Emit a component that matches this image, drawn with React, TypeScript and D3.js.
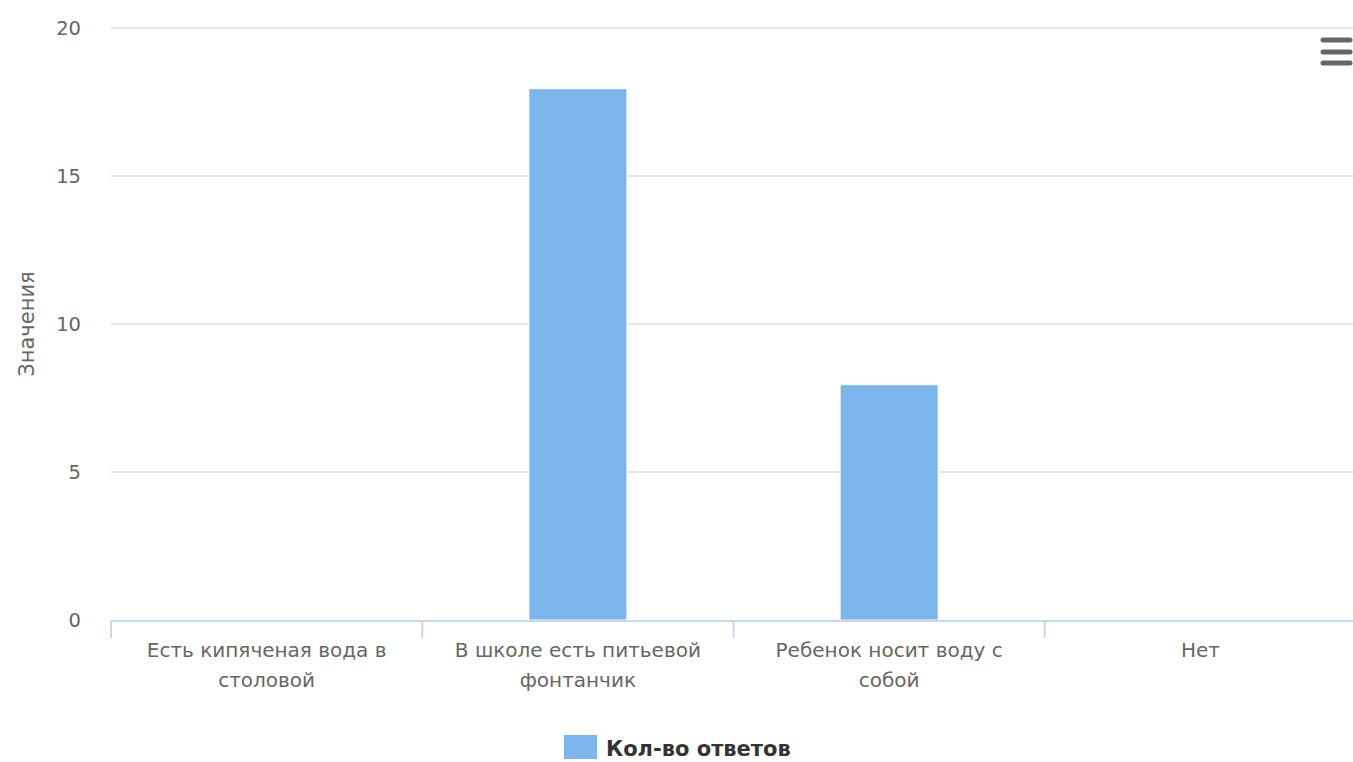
import React from "react";
import * as d3 from "d3";

const categories = [
  ["Есть кипяченая вода в", "столовой"],
  ["В школе есть питьевой", "фонтанчик"],
  ["Ребенок носит воду с", "собой"],
  ["Нет"],
];
const values = [0, 18, 8, 0];
const yTicks = [0, 5, 10, 15, 20];
const seriesName = "Кол-во ответов";
const yTitle = "Значения";

const W = 1353;
const H = 762;
const left = 111;
const right = 1356;
const top = 28;
const bottom = 620;
const font = "'DejaVu Sans', Verdana, sans-serif";

export default function App() {
  const x = d3.scaleBand<number>().domain(d3.range(categories.length)).range([left, right]).paddingInner(0).paddingOuter(0);
  const y = d3.scaleLinear().domain([0, 20]).range([bottom, top]);
  const bw = x.bandwidth() * 0.315;
  const bounds = d3.range(categories.length + 1).map((i) => left + i * x.step());
  return (
    <div style={{ position: "absolute", left: 0, top: 0 }}>
      <svg width={W} height={H} style={{ display: "block", background: "#fff" }}>
        {yTicks.map((t) => (
          <g key={t}>
            {t !== 0 && <line x1={left} x2={W} y1={y(t)} y2={y(t)} stroke="#e6e6e6" strokeWidth={2} />}
            <text x={81} y={y(t)} dy="0.35em" textAnchor="end" fontFamily={font} fontSize={19.5} fill="#666">{t}</text>
          </g>
        ))}
        <text transform={`translate(34,${(top + bottom) / 2}) rotate(-90)`} textAnchor="middle" fontFamily={font} fontSize={21} fill="#666">{yTitle}</text>
        {values.map((v, i) => (
          v > 0 ? <rect key={i} x={x(i)! + (x.bandwidth() - bw) / 2} y={y(v) + 1.5} width={bw} height={bottom - y(v) - 1.5} fill="#7cb5ec" stroke="#fff" strokeWidth={1} /> : null
        ))}
        <line x1={left} x2={W} y1={bottom + 1} y2={bottom + 1} stroke="#ccd6eb" strokeWidth={2} />
        {bounds.map((b, i) => (
          <line key={i} x1={b} x2={b} y1={bottom + 1} y2={bottom + 18} stroke="#ccd6eb" strokeWidth={2} />
        ))}
        {categories.map((lines, i) => (
          <text key={i} x={x(i)! + x.bandwidth() / 2} y={657} textAnchor="middle" fontFamily={font} fontSize={20} fill="#666">
            {lines.map((l, j) => (
              <tspan key={j} x={x(i)! + x.bandwidth() / 2} dy={j === 0 ? 0 : 30}>{l}</tspan>
            ))}
          </text>
        ))}
        <rect x={564} y={735} width={33} height={24} fill="#7cb5ec" />
        <text x={606} y={756} fontFamily={font} fontSize={21} fontWeight="bold" fill="#333">{seriesName}</text>
        {[40, 52, 63].map((yy) => (
          <line key={yy} x1={1323} x2={1350} y1={yy} y2={yy} stroke="#666" strokeWidth={5} strokeLinecap="round" />
        ))}
      </svg>
    </div>
  );
}
